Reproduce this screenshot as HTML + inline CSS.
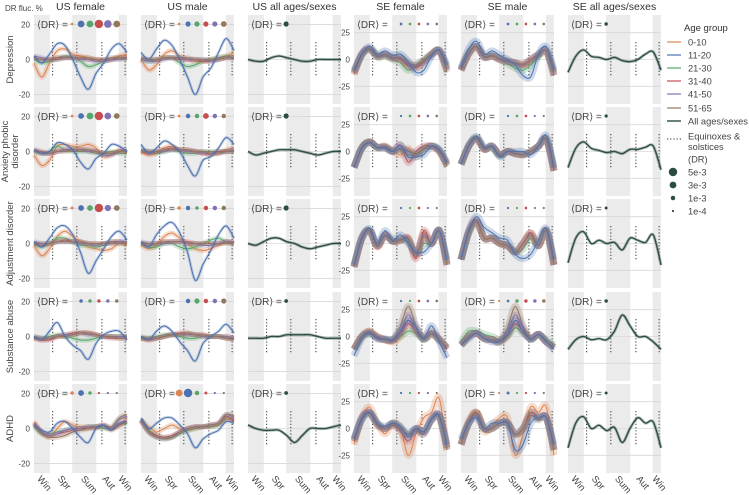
<!DOCTYPE html>
<html><head><meta charset="utf-8">
<style>
html,body{margin:0;padding:0;background:#fff;}
svg{display:block;font-family:"Liberation Sans",sans-serif;}
</style></head>
<body>
<svg id="chart" width="749" height="495" viewBox="0 0 749 495"></svg>
<script>
// ---- data ----
const columns = ["US female","US male","US all ages/sexes","SE female","SE male","SE all ages/sexes"];
const rowsLabels = [["Depression"],["Anxiety phobic","disorder"],["Adjustment disorder"],["Substance abuse"],["ADHD"]];
const ageGroups = ["0-10","11-20","21-30","31-40","41-50","51-65"];
const usTicks = [20,0,-20];
const seTicks = [25,0,-25];
const seasonLabels = ["Win","Spr","Sum","Aut","Win"];
const drLegendValues = [5e-3,3e-3,1e-3,1e-4];
const drLegendLabels = ["5e-3","3e-3","1e-3","1e-4"];

// US female
const usF_dep_o=[-2,-10,-2,5,6,3,2,1,0,-1,0,2,3], usF_dep_b=[2,-2,3,9,8,0,-10,-17,-8,-2,6,9,4], usF_dep_g=[0,-2,-1,1,2,1,-1,-4,-3,-1,0,1,0], usF_dep_r=[1,0,0,1,1,1,1,0,0,0,0,1,1], usF_dep_p=[2,1,0,0,1,1,0,0,-1,-1,0,0,1], usF_dep_n=[1,0,0,0,1,1,1,1,0,0,1,1,1];
const usF_anx_o=[-2,-8,-5,3,4,3,3,4,2,-3,-2,1,-1], usF_anx_b=[1,-1,0,5,4,1,-6,-10,-4,-1,4,3,0], usF_anx_g=[0,-1,0,3,1,0,0,0,-1,-1,0,-1,-1], usF_anx_r=[1,0,-1,0,1,1,1,1,0,-1,-1,0,0], usF_anx_p=[1,-1,-1,0,1,1,1,0,0,-2,-2,0,1], usF_anx_n=[0,-1,-1,0,0,1,1,1,0,-1,-1,0,0];
const usF_adj_o=[-1,-7,-3,4,7,4,1,-2,-3,-4,-3,0,-1], usF_adj_b=[1,-2,3,9,10,5,-5,-17,-10,-3,4,7,2], usF_adj_g=[0,-2,0,3,3,1,-1,-1,-2,-1,1,1,0], usF_adj_r=[0,-1,0,1,2,1,1,0,0,0,1,1,0], usF_adj_p=[1,0,0,1,1,1,0,0,-1,0,0,1,1], usF_adj_n=[0,0,0,1,1,1,1,0,0,0,0,0,0];
const usF_sub_o=[-1,-2,-1,0,0,1,2,2,1,0,0,0,0], usF_sub_b=[0,-2,3,8,0,-5,-8,-13,-4,1,3,3,-2], usF_sub_g=[0,-1,0,1,0,-1,-2,-2,-1,0,0,0,0], usF_sub_r=[-1,-2,-2,0,1,2,2,2,1,0,-1,-1,-1], usF_sub_p=[0,-1,-1,0,1,1,2,1,1,0,0,0,0], usF_sub_n=[-1,-1,-1,0,0,1,2,2,1,0,0,-1,-1];
const usF_adh_o=[4,-2,-5,0,4,2,1,1,0,1,-1,2,6], usF_adh_b=[2,-1,-2,3,4,0,-5,-8,0,2,-1,3,4], usF_adh_g=[1,-3,-3,-2,-1,0,0,1,1,0,0,2,3], usF_adh_r=[2,-2,-4,-3,-2,-1,0,0,1,2,0,2,4], usF_adh_p=[3,-2,-4,-3,-1,0,0,1,1,1,0,5,7], usF_adh_n=[3,-3,-5,-5,-4,-2,-1,0,1,2,1,6,8];
// US male
const usM_dep_o=[0,-6,-3,3,5,2,0,-1,-1,0,1,2,4], usM_dep_b=[4,0,6,11,8,0,-10,-20,-10,-5,4,12,5], usM_dep_g=[0,-1,0,1,1,-2,-4,-3,-1,0,1,2,1], usM_dep_r=[1,0,0,1,1,0,0,0,-1,-1,0,1,1], usM_dep_p=[0,-1,-1,0,1,1,0,0,0,-1,0,1,1], usM_dep_n=[1,0,0,1,1,1,1,0,0,0,0,1,1];
const usM_anx_o=[0,-2,-1,2,3,1,0,0,-1,-2,-1,1,2], usM_anx_b=[4,-1,2,6,4,0,-8,-14,-5,-3,2,8,4], usM_anx_g=[1,0,-1,0,1,0,-1,-1,0,0,0,0,0], usM_anx_r=[0,-1,0,1,2,1,1,0,-1,-1,0,0,0], usM_anx_p=[1,0,0,0,1,1,0,0,-1,-1,-1,0,1], usM_anx_n=[0,0,0,1,1,1,1,0,0,-1,-1,0,0];
const usM_adj_o=[-1,-3,-1,4,6,3,0,-3,-4,-3,-1,1,0], usM_adj_b=[1,-2,5,10,12,6,-5,-21,-12,-4,5,10,3], usM_adj_g=[0,-2,-2,0,0,-2,-3,-2,0,2,3,1,0], usM_adj_r=[0,-1,0,1,1,1,1,0,0,0,0,1,0], usM_adj_p=[1,0,0,0,1,1,0,0,-1,-1,0,1,1], usM_adj_n=[0,0,0,1,1,1,0,0,0,0,0,0,0];
const usM_sub_o=[-1,-2,-1,0,1,1,1,1,0,0,0,0,-1], usM_sub_b=[0,-2,3,6,3,-3,-8,-14,-4,0,3,7,2], usM_sub_g=[0,-1,0,1,1,0,-1,-1,0,0,0,-1,-1], usM_sub_r=[-1,-2,-1,0,1,2,2,1,1,0,0,-1,-1], usM_sub_p=[-1,-1,-1,0,1,1,1,1,0,0,0,0,-1], usM_sub_n=[-1,-1,-1,0,1,1,2,1,1,0,0,-1,-2];
const usM_adh_o=[5,1,-2,0,2,0,-1,0,1,1,2,5,5], usM_adh_b=[6,0,3,6,6,2,-3,-11,-6,-3,-1,4,3], usM_adh_g=[5,-1,-4,-5,-5,-3,-1,0,1,1,2,6,5], usM_adh_r=[5,-2,-4,-5,-4,-2,0,1,1,2,3,7,4], usM_adh_p=[5,-2,-5,-6,-5,-2,0,1,1,2,3,8,6], usM_adh_n=[4,-2,-5,-6,-5,-2,0,1,1,2,3,8,7];
// US all
const usA_dep=[0,-1,-1,1,2,1,0,-1,-1,0,0,0,0];
const usA_anx=[0,-2,-1,0,1,1,1,0,-1,-2,-1,0,0];
const usA_adj=[0,-1,1,3,3,1,0,-2,-3,-2,-1,0,0];
const usA_sub=[-1,-1,-1,0,0,1,1,1,1,0,-1,-1,-1];
const usA_adh=[2,0,-1,-1,-1,-4,-8,-4,0,0,0,1,2];
// SE female
const seF_dep_o=[-12,5,10,3,5,2,0,-5,-8,-3,5,8,-8], seF_dep_b=[-10,5,12,5,8,4,5,-2,-12,-10,3,9,-5], seF_dep_g=[-12,4,9,2,3,0,-3,-10,-5,0,5,8,-8], seF_dep_r=[-14,5,10,3,4,1,0,-6,-7,-2,5,8,-10], seF_dep_p=[-12,5,10,3,4,1,1,-4,-6,-2,4,8,-10], seF_dep_n=[-13,4,10,4,5,2,2,-3,-5,-1,5,8,-12];
const seF_anx_o=[-15,3,9,4,5,0,-3,3,-5,2,5,0,-12], seF_anx_b=[-15,3,8,4,3,0,6,-5,-5,-3,5,2,-10], seF_anx_g=[-15,3,9,3,4,0,2,-3,-3,2,5,1,-12], seF_anx_r=[-15,3,9,4,4,0,6,-10,0,5,5,0,-12], seF_anx_p=[-14,3,9,4,4,0,3,0,-2,3,5,1,-13], seF_anx_n=[-15,4,9,4,5,1,2,1,-2,3,5,1,-14];
const seF_adj_o=[-22,5,12,-3,8,2,3,5,-12,10,0,12,-20], seF_adj_b=[-20,5,14,0,12,3,8,0,-8,-8,0,12,-15], seF_adj_g=[-21,5,12,-2,8,2,4,2,-8,0,0,12,-18], seF_adj_r=[-22,4,12,-3,8,2,3,5,-14,12,0,12,-20], seF_adj_p=[-22,5,12,-2,7,2,3,4,-10,8,0,12,-20], seF_adj_n=[-21,5,12,-2,8,2,3,4,-10,6,0,12,-20];
const seF_sub_o=[-12,0,5,0,-3,-5,0,15,5,0,5,-2,-12], seF_sub_b=[-18,-2,3,-2,-2,-3,5,15,8,-2,10,-5,-20], seF_sub_g=[-12,0,2,0,-3,-3,0,5,3,-3,2,-3,-10], seF_sub_r=[-12,0,4,0,-3,-4,3,12,5,-2,3,-3,-12], seF_sub_p=[-12,0,4,-1,-3,-3,6,20,8,-2,3,-3,-11], seF_sub_n=[-12,0,5,-2,-3,-3,10,28,10,-2,2,-3,-10];
const seF_adh_o=[-15,10,20,5,-5,5,0,-25,-5,10,15,28,-20], seF_adh_b=[-10,8,15,5,2,5,2,-8,0,-3,8,12,-15], seF_adh_g=[-10,10,14,5,0,5,0,-5,0,-3,8,12,-18], seF_adh_r=[-12,10,15,3,0,3,-2,-12,0,-3,8,12,-18], seF_adh_p=[-10,10,15,5,0,5,0,-5,0,-5,10,12,-18], seF_adh_n=[-12,8,14,4,0,4,0,-6,-2,-5,8,10,-20];
// SE male
const seM_dep_o=[-10,6,12,3,4,0,-2,-4,-6,-2,4,8,-12], seM_dep_b=[-8,10,17,5,8,4,0,-5,-15,-16,5,12,-10], seM_dep_g=[-10,6,12,2,4,0,-4,-8,-10,-5,3,8,-12], seM_dep_r=[-10,5,12,2,3,0,-2,-3,-5,0,5,8,-15], seM_dep_p=[-10,5,12,2,3,0,-2,-3,-5,0,5,8,-14], seM_dep_n=[-10,6,12,3,3,1,-1,-3,-4,0,4,8,-15];
const seM_anx_o=[-12,5,12,2,5,-3,0,-2,-3,0,5,12,-18], seM_anx_b=[-12,6,14,4,5,-5,0,0,0,-3,5,15,-15], seM_anx_g=[-12,5,13,3,4,-4,0,-2,-3,0,5,12,-16], seM_anx_r=[-12,5,12,2,5,-3,0,-2,-3,0,5,11,-18], seM_anx_p=[-12,5,12,2,5,-3,0,-2,-3,0,5,11,-18], seM_anx_n=[-12,5,12,2,5,-3,0,-2,-3,0,5,11,-18];
const seM_adj_o=[-15,10,20,5,5,0,-2,-8,0,10,-2,12,-20], seM_adj_b=[-15,12,25,15,10,5,3,-10,-14,-10,3,14,-15], seM_adj_g=[-15,10,20,5,5,0,-2,-8,-5,5,-2,12,-20], seM_adj_r=[-15,12,22,5,5,0,-2,-8,0,10,-2,12,-20], seM_adj_p=[-15,10,20,5,5,0,-2,-8,0,8,-2,12,-20], seM_adj_n=[-15,10,20,5,5,0,-2,-8,0,8,-2,12,-20];
const seM_sub_o=[-8,0,3,-2,-3,-5,0,15,5,-2,2,-5,-10], seM_sub_b=[-8,-2,3,-2,-5,-5,2,15,5,-3,2,-5,-12], seM_sub_g=[-5,5,5,2,0,-3,0,8,3,-2,2,-3,-8], seM_sub_r=[-8,0,3,-2,-3,-4,2,12,5,-2,2,-5,-10], seM_sub_p=[-8,0,3,-2,-3,-4,5,20,8,-2,2,-5,-10], seM_sub_n=[-8,0,3,-2,-3,-5,8,28,10,-2,2,-5,-10];
const seM_adh_o=[-15,8,15,-3,3,10,10,-25,-5,20,15,20,-25], seM_adh_b=[-10,5,10,0,5,5,5,-20,-15,5,10,10,-15], seM_adh_g=[-15,5,15,0,0,5,5,-5,0,15,10,10,-20], seM_adh_r=[-15,5,15,0,0,5,5,-5,0,15,10,10,-20], seM_adh_p=[-15,5,12,0,0,5,5,-5,0,12,10,10,-20], seM_adh_n=[-15,5,14,0,0,5,5,-6,0,12,8,10,-20];
// SE all
const seA_dep=[-12,3,9,3,2,0,2,-1,-2,0,5,7,-10];
const seA_anx=[-15,3,9,3,1,-1,0,-2,2,2,4,5,-17];
const seA_adj=[-18,5,11,0,3,0,1,-6,5,3,1,8,-20];
const seA_sub=[-12,-3,0,-3,-2,-3,5,20,10,0,0,-5,-12];
const seA_adh=[-18,5,11,0,3,-2,1,-13,0,10,5,6,-18];

// DR dot values per panel
const usF_dr=[[2e-4,3e-3,3e-3,5e-3,4e-3,3e-3],[2e-4,2e-3,3e-3,5e-3,3e-3,2e-3],[3e-4,2e-3,2e-3,5e-3,2.5e-3,2e-3],[0,5e-4,5e-4,5e-4,5e-4,5e-4],[5e-4,2e-3,5e-4,1e-4,1e-4,1e-4]];
const usM_dr=[[2e-4,1.5e-3,1.5e-3,1.5e-3,1.5e-3,2e-3],[2e-4,1e-3,1e-3,2e-3,1e-3,1e-3],[5e-4,1e-3,5e-4,1e-3,1e-3,1e-3],[0,1e-3,1.5e-3,1e-3,1e-3,1.5e-3],[3e-3,5e-3,1e-3,3e-4,1e-4,1e-4]];
const usA_dr=[1.5e-3,1.5e-3,1.5e-3,6e-4,6e-4];
const seF_dr=[[0,2e-4,2e-4,2e-4,2e-4,2e-4],[0,1e-4,2e-4,2e-4,2e-4,2e-4],[0,1e-4,1e-4,2e-4,1e-4,1e-4],[0,1e-4,1e-4,2e-4,2e-4,2e-4],[0,1e-4,1e-4,1e-4,1e-4,1e-4]];
const seM_dr=[[0,2e-4,2e-4,2e-4,2e-4,2e-4],[0,1e-4,2e-4,2e-4,1e-4,1e-4],[0,1e-4,1e-4,2e-4,1e-4,1e-4],[1e-4,2e-4,5e-4,5e-4,5e-4,5e-4],[1e-4,3e-4,1e-4,1e-4,1e-4,1e-4]];
const seA_dr=[5e-4,4e-4,3e-4,5e-4,3e-4];

const colors=["#dd8452","#4c72b0","#55a868","#c44e52","#8172b3","#937860"];
const allColor="#2b4b43";

const panels=[
 [[usF_dep_o,usF_dep_b,usF_dep_g,usF_dep_r,usF_dep_p,usF_dep_n],[usF_anx_o,usF_anx_b,usF_anx_g,usF_anx_r,usF_anx_p,usF_anx_n],[usF_adj_o,usF_adj_b,usF_adj_g,usF_adj_r,usF_adj_p,usF_adj_n],[usF_sub_o,usF_sub_b,usF_sub_g,usF_sub_r,usF_sub_p,usF_sub_n],[usF_adh_o,usF_adh_b,usF_adh_g,usF_adh_r,usF_adh_p,usF_adh_n]],
 [[usM_dep_o,usM_dep_b,usM_dep_g,usM_dep_r,usM_dep_p,usM_dep_n],[usM_anx_o,usM_anx_b,usM_anx_g,usM_anx_r,usM_anx_p,usM_anx_n],[usM_adj_o,usM_adj_b,usM_adj_g,usM_adj_r,usM_adj_p,usM_adj_n],[usM_sub_o,usM_sub_b,usM_sub_g,usM_sub_r,usM_sub_p,usM_sub_n],[usM_adh_o,usM_adh_b,usM_adh_g,usM_adh_r,usM_adh_p,usM_adh_n]],
 [[usA_dep],[usA_anx],[usA_adj],[usA_sub],[usA_adh]],
 [[seF_dep_o,seF_dep_b,seF_dep_g,seF_dep_r,seF_dep_p,seF_dep_n],[seF_anx_o,seF_anx_b,seF_anx_g,seF_anx_r,seF_anx_p,seF_anx_n],[seF_adj_o,seF_adj_b,seF_adj_g,seF_adj_r,seF_adj_p,seF_adj_n],[seF_sub_o,seF_sub_b,seF_sub_g,seF_sub_r,seF_sub_p,seF_sub_n],[seF_adh_o,seF_adh_b,seF_adh_g,seF_adh_r,seF_adh_p,seF_adh_n]],
 [[seM_dep_o,seM_dep_b,seM_dep_g,seM_dep_r,seM_dep_p,seM_dep_n],[seM_anx_o,seM_anx_b,seM_anx_g,seM_anx_r,seM_anx_p,seM_anx_n],[seM_adj_o,seM_adj_b,seM_adj_g,seM_adj_r,seM_adj_p,seM_adj_n],[seM_sub_o,seM_sub_b,seM_sub_g,seM_sub_r,seM_sub_p,seM_sub_n],[seM_adh_o,seM_adh_b,seM_adh_g,seM_adh_r,seM_adh_p,seM_adh_n]],
 [[seA_dep],[seA_anx],[seA_adj],[seA_sub],[seA_adh]]
];
const drs=[usF_dr,usM_dr,usA_dr,seF_dr,seM_dr,seA_dr];

// ---- layout ----
const NS="http://www.w3.org/2000/svg";
const svg=document.getElementById('chart');
function mk(tag,attrs,parent){const e=document.createElementNS(NS,tag);for(const k in attrs)e.setAttribute(k,attrs[k]);(parent||svg).appendChild(e);return e;}
const colX=[34,141,248,354,461,568], PW=93;
const rowY=[15,107,199,292,384], PH=89;
function xs(c,f){return colX[c]+f*PW;}
function ys(c,r,v){const lim=c<3?25.4:41.5;return rowY[r]+PH/2-v/lim*(PH/2);}
function rad(v){return v<=0?0:0.6+3.6*Math.sqrt(v/5e-3);}
function smooth(pts){let d="M"+pts[0][0].toFixed(2)+","+pts[0][1].toFixed(2);
 for(let i=0;i<pts.length-1;i++){const p0=pts[Math.max(0,i-1)],p1=pts[i],p2=pts[i+1],p3=pts[Math.min(pts.length-1,i+2)];
  const c1=[p1[0]+(p2[0]-p0[0])/6,p1[1]+(p2[1]-p0[1])/6],c2=[p2[0]-(p3[0]-p1[0])/6,p2[1]-(p3[1]-p1[1])/6];
  d+="C"+c1[0].toFixed(2)+","+c1[1].toFixed(2)+" "+c2[0].toFixed(2)+","+c2[1].toFixed(2)+" "+p2[0].toFixed(2)+","+p2[1].toFixed(2);}
 return d;}

let t=mk('text',{x:5,y:11,'font-size':8,fill:'#444'});t.textContent="DR fluc. %";


columns.forEach((name,c)=>{
 const tt=mk('text',{x:xs(c,0.5),y:10,'font-size':10.5,fill:'#333','text-anchor':'middle'});tt.textContent=name;
 
 
});
rowsLabels.forEach((lines,r)=>{
 const cy=rowY[r]+PH/2;
 lines.forEach((ln,i)=>{
  const x=lines.length===1?13:8+i*10;
  const e=mk('text',{x:x,y:cy,'font-size':9.5,fill:'#444','text-anchor':'middle',transform:`rotate(-90 ${x} ${cy})`});e.textContent=ln;
  
  
 });
});

for(let c=0;c<6;c++)for(let r=0;r<5;r++){
 const g=mk('g',{});
 
 
 const x0=colX[c],y0=rowY[r];
 mk('rect',{x:x0,y:y0,width:PW,height:PH,fill:'#fff'},g);
 [[0,0.17],[0.41,0.67],[0.91,1]].forEach(b=>mk('rect',{x:xs(c,b[0]),y:y0,width:(b[1]-b[0])*PW,height:PH,fill:'#ebebeb'},g));
 const ticks=c<3?usTicks:seTicks;
 ticks.forEach(v=>{
  mk('line',{x1:x0,x2:x0+PW,y1:ys(c,r,v),y2:ys(c,r,v),stroke:'#d8d8d8','stroke-width':0.8},g);
  if(c===0||c===3){const e=mk('text',{x:x0-4,y:ys(c,r,v)+3,'font-size':8,fill:'#444','text-anchor':'end'},g);e.textContent=v;
   
   }
 });
 [0.2,0.46,0.73,0.98].forEach(f=>mk('line',{x1:xs(c,f),x2:xs(c,f),y1:y0+27,y2:y0+62,stroke:'#555','stroke-width':1.2,'stroke-dasharray':'1.2 2'},g));
 const series=panels[c][r];
 const all=series.length===1;
 const order=all?[0]:[0,2,3,4,5,1];
 order.forEach(si=>{
  const vals=series[si];
  const pts=vals.map((v,i)=>[xs(c,i/(vals.length-1)),ys(c,r,v)]);
  const d=smooth(pts);const col=all?allColor:colors[si];
  mk('path',{d:d,fill:'none',stroke:col,'stroke-opacity':all?0.35:0.28,'stroke-width':all?3:(c<3?(si===1?3:5):7),'stroke-linejoin':'round'},g);
  const ln=mk('path',{d:d,fill:'none',stroke:col,'stroke-width':all?1.3:1},g);
  
  
 });
 const dty=y0+9;
 const lab=mk('text',{x:x0+3,y:dty+4,'font-size':10,fill:'#444'},g);lab.textContent="⟨DR⟩ =";
 
 
 if(all){const dot=mk('circle',{cx:xs(c,0.41),cy:dty,r:rad(drs[c][r]),fill:allColor},g);
  }
 else drs[c][r].forEach((v,i)=>{if(v<=0)return;const dot=mk('circle',{cx:xs(c,0.41+i*0.096),cy:dty,r:rad(v),fill:colors[i]},g);
  
  });
 if(r===4){const offs=[0.03,0.25,0.5,0.73,0.9];
  seasonLabels.forEach((s,i)=>{const x=xs(c,offs[i]),y=479;const e=mk('text',{x:x,y:y,'font-size':9.5,fill:'#444',transform:`rotate(50 ${x} ${y})`},g);e.textContent=s;
   
   });}
}

// legend
const lg=mk('g',{});


let e=mk('text',{x:684,y:31,'font-size':9.5,fill:'#333'},lg);e.textContent="Age group";
const ly=[42,55,68,81,94,108];
ageGroups.forEach((a,i)=>{mk('line',{x1:667,x2:681,y1:ly[i],y2:ly[i],stroke:colors[i],'stroke-width':1.2},lg);
 const t=mk('text',{x:688,y:ly[i]+3.5,'font-size':9.3,fill:'#444'},lg);t.textContent=a;
 
 });
mk('line',{x1:667,x2:681,y1:121,y2:121,stroke:allColor,'stroke-width':1.4},lg);
e=mk('text',{x:688,y:124.5,'font-size':9.3,fill:'#444'},lg);e.textContent="All ages/sexes";
mk('line',{x1:667,x2:681,y1:139,y2:139,stroke:'#555','stroke-width':1.2,'stroke-dasharray':'1.2 2'},lg);
e=mk('text',{x:688,y:139.5,'font-size':9.3,fill:'#444'},lg);e.textContent="Equinoxes &";
e=mk('text',{x:688,y:150,'font-size':9.3,fill:'#444'},lg);e.textContent="solstices";
e=mk('text',{x:688,y:162.5,'font-size':9.3,fill:'#444'},lg);e.textContent="(DR)";
const dy=[172,185,198,211];
drLegendValues.forEach((v,i)=>{mk('circle',{cx:673,cy:dy[i],r:rad(v),fill:allColor},lg);
 const t=mk('text',{x:688,y:dy[i]+3.5,'font-size':9.3,fill:'#444'},lg);t.textContent=drLegendLabels[i];
 
 });
</script>
</body></html>
